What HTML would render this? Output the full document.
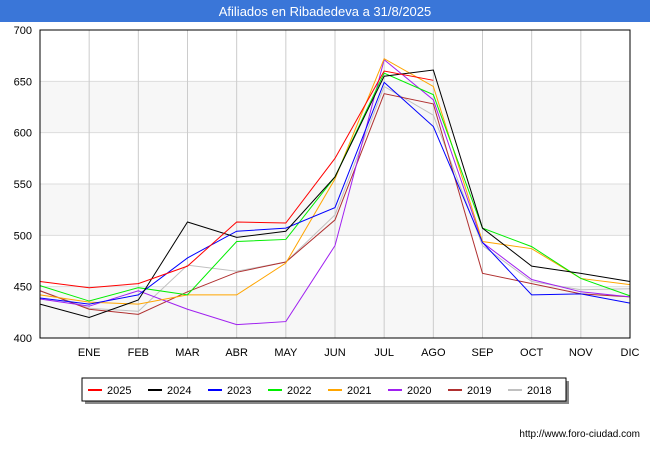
<!DOCTYPE html>
<html><head><meta charset="utf-8"><style>
body{margin:0;background:#fff;font-family:"Liberation Sans",sans-serif}
</style></head><body>
<svg id="c" width="650" height="450" style="display:block">
<rect x="0" y="0" width="650" height="22" fill="#3a76d8"/>
<text x="325" y="16" text-anchor="middle" font-size="13" fill="#fff">Afiliados en Ribadedeva a 31/8/2025</text>
<g id="grid"></g><g id="lines"></g><g id="axes"></g>
<text x="640" y="437" text-anchor="end" font-size="10" fill="#000">http://www.foro-ciudad.com</text>
<g id="legend"></g>
</svg>
<script>
const months=["","ENE","FEB","MAR","ABR","MAY","JUN","JUL","AGO","SEP","OCT","NOV","DIC"];
const yTicks=[400,450,500,550,600,650,700];
const seriesNames=["2025","2024","2023","2022","2021","2020","2019","2018"];
const seriesColors=["#ff0000","#000000","#0000ff","#00ee00","#ffa500","#a020f0","#b03030","#c0c0c0"];
const s2025=[455,449,453,470,513,512,575,660,651];
const s2024=[433,420,437,513,498,504,557,655,661,507,470,463,455];
const s2023=[439,433,442,478,504,507,527,649,606,493,442,443,434];
const s2022=[451,436,449,442,494,496,557,658,637,507,489,458,441];
const s2021=[442,435,433,442,442,473,555,672,645,494,487,458,452];
const s2020=[438,431,446,428,413,416,490,671,632,493,457,445,440];
const s2019=[446,428,423,445,464,474,515,638,628,463,453,443,440];
const s2018=[446,429,426,471,465,474,520,645,617,490,455,447,448];
const allSeries=[s2025,s2024,s2023,s2022,s2021,s2020,s2019,s2018];
const L=40,R=630,T=30,B=338,NS="http://www.w3.org/2000/svg";
const x=i=>L+i*(R-L)/12, y=v=>B-(v-400)*(B-T)/300;
function mk(t,a,p){const e=document.createElementNS(NS,t);for(const k in a)e.setAttribute(k,a[k]);p.appendChild(e);return e;}
const g=document.getElementById('grid');
for(let i=0;i<6;i++){if(i%2==0){const r=mk('rect',{x:L,y:y(yTicks[i+1]),width:R-L,height:y(yTicks[i])-y(yTicks[i+1]),fill:'#f7f7f7'},g);}}
yTicks.forEach(v=>{const l=mk('line',{x1:L,x2:R,y1:y(v),y2:y(v),stroke:'#ddd'},g);
const t=mk('text',{x:L-8,y:y(v)+4,'text-anchor':'end','font-size':11},g);t.textContent=v;});
months.forEach((m,i)=>{if(i>0){const l=mk('line',{x1:x(i),x2:x(i),y1:T,y2:B,stroke:'#ccc'},g);}
const t=mk('text',{x:x(i),y:B+18,'text-anchor':'middle','font-size':11},g);t.textContent=m;});
const lg=document.getElementById('lines');
allSeries.map((s,k)=>k).reverse().forEach(k=>{const p=mk('polyline',{points:allSeries[k].map((v,i)=>x(i)+','+y(v)).join(' '),fill:'none',stroke:seriesColors[k],'stroke-width':1},lg);
});
const ax=document.getElementById('axes');
const f=mk('rect',{x:L,y:T,width:R-L,height:B-T,fill:'none',stroke:'#000'},ax);
const leg=document.getElementById('legend');
const sh=mk('rect',{x:85,y:381,width:484,height:23,fill:'#888'},leg);
const lb=mk('rect',{x:82,y:378,width:484,height:23,fill:'#fff',stroke:'#000'},leg);
seriesNames.forEach((n,k)=>{const bx=88+k*60;const l=mk('line',{x1:bx,x2:bx+14,y1:390,y2:390,stroke:seriesColors[k],'stroke-width':2},leg);
const t=mk('text',{x:bx+19,y:394,'font-size':11},leg);t.textContent=n;});
</script>
</body></html>
